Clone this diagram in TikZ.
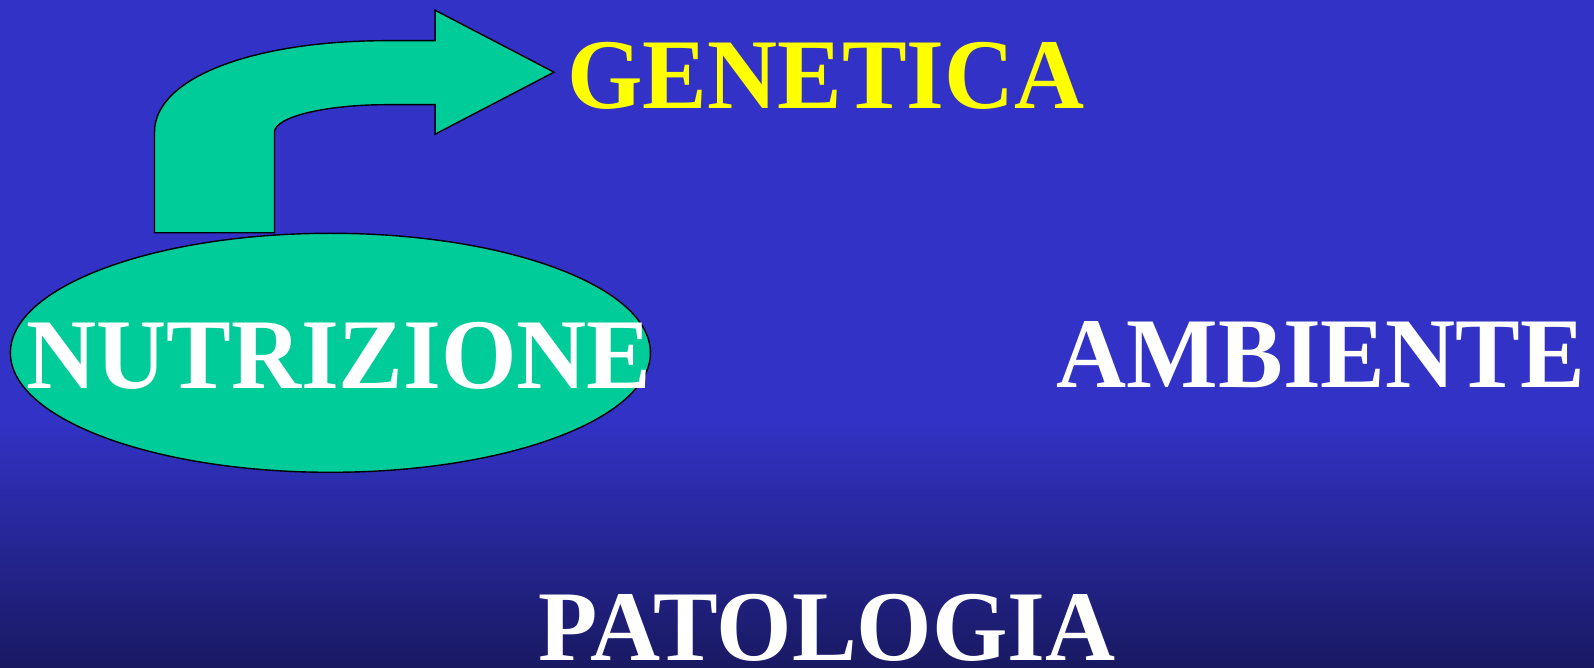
\documentclass[tikz,border=0pt]{standalone}
\usepackage{fontspec}
\setmainfont{Liberation Serif}
\usepackage{tikz}

\definecolor{slidetop}{RGB}{50,50,198}
\definecolor{slidebot}{RGB}{25,25,98}
\definecolor{blobgreen}{RGB}{0,204,153}
\definecolor{genyellow}{RGB}{255,255,0}

\begin{document}
\begin{tikzpicture}[thin,
    word/.style={font=\fontsize{28.45}{34}\selectfont\bfseries, inner sep=0pt, xscale=0.97},
    blob/.style={fill=blobgreen, draw=black}]
    \useasboundingbox (0,0) rectangle (15.94,6.67);
    \fill[slidetop] (0,2.45) rectangle (15.94,6.67);
    \shade[top color=slidetop, bottom color=slidebot] (0,0) rectangle (15.94,2.46);

    % bent arrow up to GENETICA
    \draw[blob] (1.545,4.342) -- (1.545,5.348)
        .. controls (1.545,5.90) and (2.55,6.263) .. (3.863,6.263)
        -- (4.351,6.263) -- (4.351,6.568) -- (5.54,5.948) -- (4.351,5.328)
        -- (4.351,5.623) -- (3.863,5.623)
        .. controls (3.25,5.623) and (2.745,5.50) .. (2.745,5.348)
        -- (2.745,4.342) -- cycle;

    \draw[blob] (3.304,3.142) ellipse [x radius=3.20, y radius=1.195];

    \node[word, white] (nutri) at (3.39,3.11) {NUTRIZIONE};
    \node[word, genyellow] (gen) at (8.26,5.91) {GENETICA};
    \node[word, white] (amb) at (13.21,3.12) {AMBIENTE};
    \node[word, white] (pat) at (8.27,0.39) {PATOLOGIA};
\end{tikzpicture}
\end{document}
